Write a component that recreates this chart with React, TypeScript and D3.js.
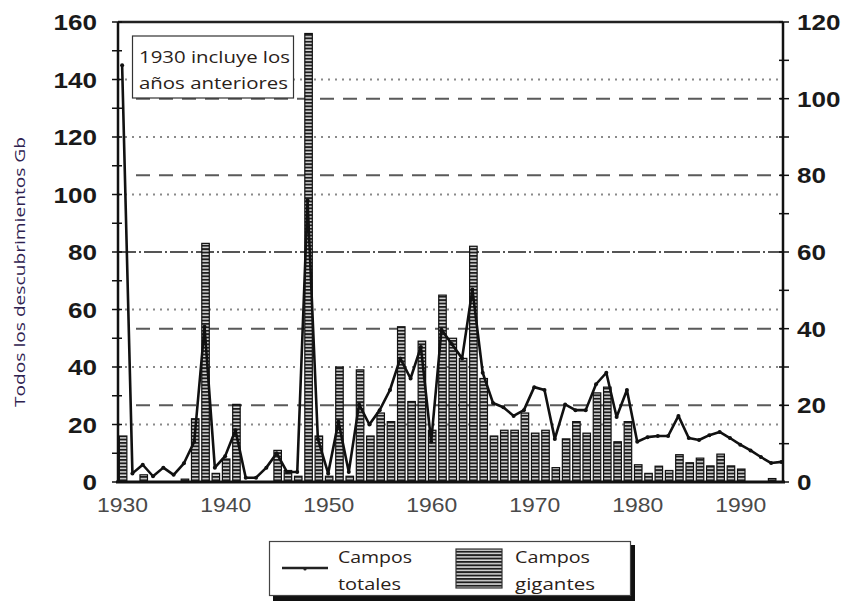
import React from "react";
import * as d3 from "d3";

const years: number[] = d3.range(1930, 1995);

// Campos gigantes (bars), Gb
const giantFields: number[] = [
  16, 0, 2.5, 0, 0, 0, 1, 22, 83, 3,
  8, 27, 0, 0, 0, 11, 4, 2, 156, 16,
  2, 40, 2, 39, 16, 24, 21, 54, 28, 49,
  18, 65, 50, 43, 82, 36, 16, 18, 18, 24,
  17, 18, 5, 15, 21, 17, 31, 33, 14, 21,
  6, 3, 5.5, 4, 9.5, 6.7, 8.3, 5.6, 9.7, 5.6,
  4.5, 0, 0, 1.2, 0,
];

// Campos totales (line), Gb
const totalFields: number[] = [
  145, 3, 6, 2, 5, 2.5, 6.5, 14, 54, 5,
  9, 18, 1.5, 1.5, 5, 10, 3.5, 3.5, 98, 15,
  3, 21, 3.5, 27, 20, 25, 32, 43, 36, 47,
  14, 53, 48, 43, 67, 38, 27.5, 26, 23, 25,
  33, 32, 15, 27, 25, 25, 34, 38, 22.6, 32,
  14, 15.6, 16, 16, 23, 15.3, 14.6, 16.3, 17.4, 15.3,
  13, 11, 8.7, 6.6, 7,
];

const leftTicks: number[] = [0, 20, 40, 60, 80, 100, 120, 140, 160];
const rightTicks: number[] = [0, 20, 40, 60, 80, 100, 120];
const yearTicks: number[] = [1930, 1940, 1950, 1960, 1970, 1980, 1990];
const dottedLeft: number[] = [20, 40, 60, 100, 120, 140];
const dashedRight: number[] = [20, 40, 80, 100];
const dashDotLeft: number[] = [80];

const yTitle = "Todos los descubrimientos Gb";
const noteLines: string[] = ["1930 incluye los", "años anteriores"];
const legendLine: string[] = ["Campos", "totales"];
const legendBar: string[] = ["Campos", "gigantes"];

export default function App() {
  const L = 118, R = 783, T = 22, B = 482;
  const x = d3.scaleLinear().domain([1929.6, 1994.15]).range([L, R]);
  const yL = d3.scaleLinear().domain([0, 160]).range([B, T]);
  const yR = d3.scaleLinear().domain([0, 120]).range([B, T]);
  const bw = 7.5;

  const lineData = years.map((yr, i) => ({ yr, v: totalFields[i] }));
  const linePath = d3
    .line<{ yr: number; v: number }>()
    .x((d) => x(d.yr))
    .y((d) => yL(d.v))(lineData) as string;

  const font = "'Liberation Sans', Arial, sans-serif";
  const font2 = "'Open Sans', 'Noto Sans', sans-serif";
  const minorLeft = d3.range(0, 161, 10);
  const minorRight = d3.range(0, 121, 10);

  return (
    <svg
      width={849}
      height={602}
      style={{ position: "absolute", left: 0, top: 0, background: "#fff" }}
    >
      <defs>
        <pattern id="hatch" width={8} height={3.4} patternUnits="userSpaceOnUse">
          <rect x={0} y={0} width={8} height={3.4} fill="#dcdcdc" />
          <rect x={0} y={0} width={8} height={1.9} fill="#1e1e1e" />
        </pattern>
      </defs>

      {/* gridlines */}
      {dottedLeft.map((v) => (
        <line key={"dt" + v} x1={L} x2={R} y1={yL(v)} y2={yL(v)} stroke="#8a8a8a" strokeWidth={2} strokeDasharray="2,5" />
      ))}
      {dashedRight.map((v) => (
        <line key={"ds" + v} x1={L + 18} x2={R} y1={yR(v)} y2={yR(v)} stroke="#5a5a5a" strokeWidth={2} strokeDasharray="14,9" />
      ))}
      {dashDotLeft.map((v) => (
        <line key={"dd" + v} x1={L} x2={R} y1={yL(v)} y2={yL(v)} stroke="#555" strokeWidth={2} strokeDasharray="18,3,2,3" />
      ))}

      {/* bars */}
      {years.map((yr, i) =>
        giantFields[i] > 0 ? (
          <rect
            key={"b" + yr}
            x={x(yr) - bw / 2 + 1}
            y={yL(giantFields[i])}
            width={bw}
            height={B - yL(giantFields[i])}
            fill="url(#hatch)"
            stroke="#111"
            strokeWidth={1.2}
          />
        ) : null
      )}

      {/* line */}
      <path d={linePath} fill="none" stroke="#111" strokeWidth={2.6} strokeLinejoin="round" />
      {lineData.map((d) => (
        <circle key={"c" + d.yr} cx={x(d.yr)} cy={yL(d.v)} r={2} fill="#111" />
      ))}

      {/* frame */}
      <line x1={L} x2={R} y1={T} y2={T} stroke="#222" strokeWidth={2.5} />
      <line x1={L} x2={L} y1={T} y2={B} stroke="#111" strokeWidth={2.5} />
      <line x1={R} x2={R} y1={T} y2={B} stroke="#111" strokeWidth={2.5} />
      <line x1={L - 2} x2={R + 2} y1={B} y2={B} stroke="#111" strokeWidth={3} />

      {/* ticks */}
      {minorLeft.map((v) => (
        <line key={"tl" + v} x1={L - 6} x2={L + 4} y1={yL(v)} y2={yL(v)} stroke="#111" strokeWidth={1.5} />
      ))}
      {minorRight.map((v) => (
        <line key={"tr" + v} x1={R - 4} x2={R + 6} y1={yR(v)} y2={yR(v)} stroke="#111" strokeWidth={1.5} />
      ))}

      {/* left tick labels */}
      {leftTicks.map((v) => {
        const s = String(v);
        return (
          <text key={"ll" + v} x={97} y={yL(v) + 8} textAnchor="end" fontFamily={font} fontWeight="bold" fontSize={22} fill="#1a1a1a" textLength={14.5 * s.length} lengthAdjust="spacingAndGlyphs">
            {s}
          </text>
        );
      })}
      {/* right tick labels */}
      {rightTicks.map((v) => {
        const s = String(v);
        return (
          <text key={"rl" + v} x={797} y={yR(v) + 8} textAnchor="start" fontFamily={font} fontWeight="bold" fontSize={22} fill="#1a1a1a" textLength={14.5 * s.length} lengthAdjust="spacingAndGlyphs">
            {s}
          </text>
        );
      })}
      {/* x labels */}
      {yearTicks.map((yr) => (
        <text key={"xl" + yr} x={x(yr) - 25} y={512} fontFamily={font} fontSize={21} fill="#4a4a4a" textLength={51} lengthAdjust="spacingAndGlyphs">
          {yr}
        </text>
      ))}

      {/* y title */}
      <text
        transform={`translate(25, 272) rotate(-90)`}
        textAnchor="middle"
        fontFamily={font2}
        fontSize={15}
        fill="#2e2250"
        textLength={270}
        lengthAdjust="spacingAndGlyphs"
      >
        {yTitle}
      </text>

      {/* note box */}
      <rect x={132.5} y={36} width={161} height={62} fill="#fff" stroke="#333" strokeWidth={1.2} />
      <text x={139} y={63} fontFamily={font2} fontSize={17} fill="#2a2118" textLength={151} lengthAdjust="spacingAndGlyphs">
        {noteLines[0]}
      </text>
      <text x={139} y={89} fontFamily={font2} fontSize={17} fill="#2a2118" textLength={149} lengthAdjust="spacingAndGlyphs">
        {noteLines[1]}
      </text>

      {/* legend */}
      <rect x={273} y={545} width={362} height={56} fill="#111" />
      <rect x={269.5} y={541.5} width={361} height={54} fill="#fff" stroke="#444" strokeWidth={1.2} />
      <line x1={282} x2={328} y1={568} y2={568} stroke="#222" strokeWidth={2.4} />
      <circle cx={305} cy={569} r={1.6} fill="#222" />
      <text x={338} y={563} fontFamily={font2} fontSize={16} fill="#2a2118" textLength={74} lengthAdjust="spacingAndGlyphs">
        {legendLine[0]}
      </text>
      <text x={338} y={590} fontFamily={font2} fontSize={16} fill="#2a2118" textLength={63} lengthAdjust="spacingAndGlyphs">
        {legendLine[1]}
      </text>
      <rect x={456} y={549} width={46} height={39} fill="url(#hatch)" stroke="#333" strokeWidth={1.2} />
      <text x={515} y={563} fontFamily={font2} fontSize={16} fill="#2a2118" textLength={75} lengthAdjust="spacingAndGlyphs">
        {legendBar[0]}
      </text>
      <text x={515} y={590} fontFamily={font2} fontSize={16} fill="#2a2118" textLength={80} lengthAdjust="spacingAndGlyphs">
        {legendBar[1]}
      </text>
    </svg>
  );
}
